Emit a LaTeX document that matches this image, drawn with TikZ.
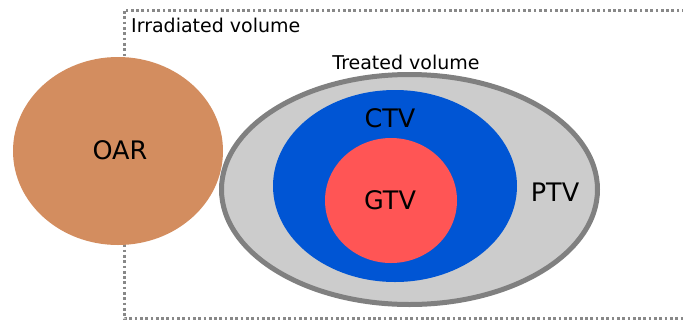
\documentclass[tikz,border=0pt]{standalone}
\usepackage{fontspec}
\setmainfont{DejaVu Sans}
\definecolor{oarc}{RGB}{211,141,95}
\definecolor{ptvfill}{RGB}{204,204,204}
\definecolor{ptvline}{RGB}{128,128,128}
\definecolor{ctvc}{RGB}{0,85,212}
\definecolor{gtvc}{RGB}{255,85,85}
\definecolor{dotc}{RGB}{136,136,136}
\begin{document}
\begin{tikzpicture}[x=1pt,y=-1pt,
  small/.style={font=\fontsize{19}{21}\selectfont, inner sep=0pt},
  big/.style={font=\fontsize{25.5}{28}\selectfont, inner sep=0pt},
  boundary/.style={draw=dotc, line width=3pt, dash pattern=on 2.7pt off 2.6pt}]
\useasboundingbox (0,0) rectangle (683,325);
% irradiated volume boundary (open to the right)
\coordinate (tr) at (690,10);
\coordinate (tl) at (124,10);
\coordinate (bl) at (124,318.5);
\coordinate (br) at (690,318.5);
\draw[boundary] (tr) -- (tl) -- (bl) -- (br);
\node[small, anchor=west] (irr) at (131,25) {Irradiated volume};
% OAR
\fill[oarc] (118,151) ellipse [x radius=105, y radius=94];
\node[big] (oar) at (120,150) {OAR};
% PTV
\draw[ptvline, fill=ptvfill, line width=5pt] (409.5,189.5) ellipse [x radius=188, y radius=115];
\node[small] (treated) at (406,62) {Treated volume};
% CTV
\fill[ctvc] (395,186) ellipse [x radius=122, y radius=96];
% GTV
\fill[gtvc] (391,200.5) ellipse [x radius=66, y radius=62.5];
\node[big] (ctv) at (390,118) {CTV};
\node[big] (gtv) at (390,200) {GTV};
\node[big] (ptv) at (555,192) {PTV};
\end{tikzpicture}
\end{document}
